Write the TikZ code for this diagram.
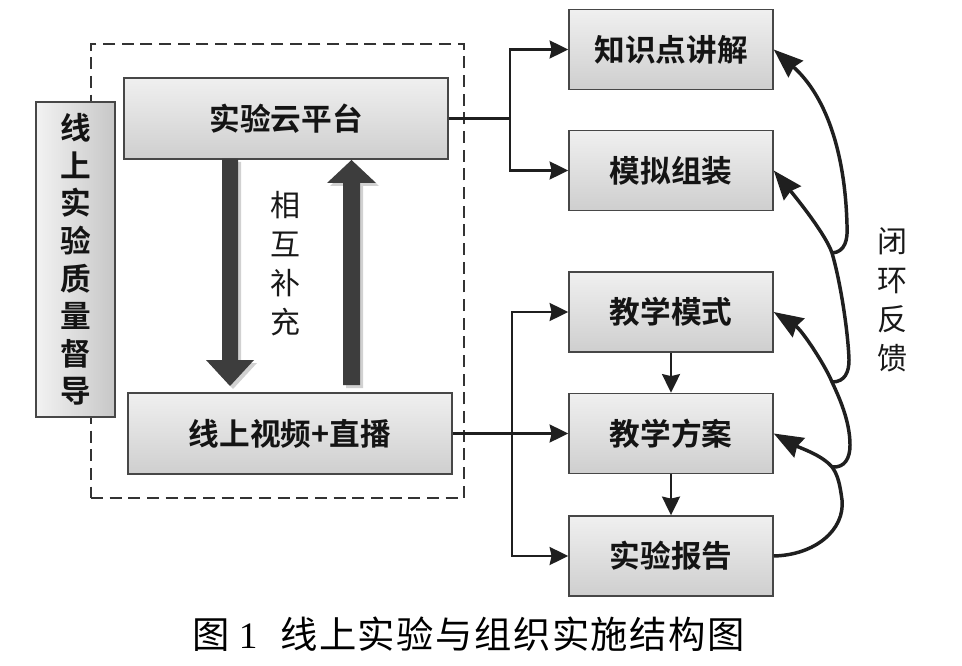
\documentclass[tikz,border=0pt]{standalone}
\usepackage{fontspec}
\setmainfont{Liberation Serif}
\newfontfamily\hei{Noto Sans CJK SC}
\newfontfamily\heib{Noto Sans CJK SC Bold}
\newfontfamily\song{Noto Sans CJK SC}[LetterSpace=4]
\usetikzlibrary{arrows.meta,calc}
\tikzset{
  box/.style={draw=black!72, line width=1.1pt, top color=black!6, bottom color=black!19,
    inner sep=0pt, text=black!92, font=\heib\fontsize{23pt}{27pt}\selectfont},
  rbox/.style={box, minimum width=153pt, minimum height=60pt},
  lbox/.style={box, minimum width=243pt, minimum height=60.75pt},
  frame/.style={draw=black!80, line width=1.1pt, dash pattern=on 9pt off 5pt,
    minimum width=279.75pt, minimum height=340.5pt, inner sep=0pt},
  conn/.style={draw=black!88, line width=1.7pt},
  arr/.style={conn, -{Stealth[length=14pt,width=13.5pt,inset=1.5pt]}},
  fb/.style={draw=black!88, line width=2.6pt, -{Stealth[length=22pt,width=16.5pt,inset=2pt]}},
  vtext/.style={align=center, text=black!90, font=\hei\fontsize{22.5pt}{29.1pt}\selectfont},
  blockarrow/.style={fill=black!76, draw=none},
  blockshadow/.style={fill=black!18, draw=none}
}
\begin{document}
\begin{tikzpicture}[x=0.75pt,y=-0.75pt]
\useasboundingbox (0,0) rectangle (962,666);
\fill[white] (0,0) rectangle (962,666);

% dashed frame
\node[frame] (frame) at (277.5,271) {};

% left side boxes
\node[lbox] (cloud) at (286,118.5) {实验云平台};
\node[lbox] (video) at (290,433.5) {线上视频+直播};
\node[box, left color=black!5, right color=black!22, minimum width=59.25pt, minimum height=236.25pt,
  align=center, font=\heib\fontsize{23pt}{28.2pt}\selectfont] (qa) at (75.5,259.5)
  {线\\上\\实\\验\\质\\量\\督\\导};

% block arrows (mutual complement)
\fill[blockshadow] (225,162) -- (241,162) -- (241,363) -- (257,363) -- (233,389) -- (209,363) -- (225,363) -- cycle;
\fill[blockarrow] (222,159) -- (238,159) -- (238,360) -- (254,360) -- (230,386) -- (206,360) -- (222,360) -- cycle;
\fill[blockshadow] (346,388) -- (363,388) -- (363,186) -- (379,186) -- (354.5,163) -- (330,186) -- (346,186) -- cycle;
\fill[blockarrow] (343,385) -- (360,385) -- (360,183) -- (376,183) -- (351.5,160) -- (327,183) -- (343,183) -- cycle;
\node[vtext] (mutual) at (285,263.5) {相\\互\\补\\充};

% right boxes
\node[rbox] (r1) at (671,49.5) {知识点讲解};
\node[rbox] (r2) at (671,170.5) {模拟组装};
\node[rbox] (r3) at (671,312) {教学模式};
\node[rbox] (r4) at (671,433.5) {教学方案};
\node[rbox] (r5) at (671,556) {实验报告};

% connectors
\coordinate (ja) at (510,118.5);
\draw[conn] (cloud.east) -- (ja);
\draw[arr] (ja) |- (r1.west);
\draw[arr] (ja) |- (r2.west);

\coordinate (jb) at (512,433.5);
\draw[arr] (video.east) -- (r4.west);
\draw[arr] (jb) |- (r3.west);
\draw[arr] (jb) |- (r5.west);
\draw[arr] (r3.south) -- (r4.north);
\draw[arr] (r4.south) -- (r5.north);

% closed-loop feedback
\coordinate (j1) at (832,467);
\coordinate (j2) at (832,382);
\coordinate (j3) at (832,253);
\draw[fb] (r5.east) .. controls (815,555) and (845,530) .. (842,500)
  .. controls (840,485) and (838,475) .. (j1)
  .. controls (822,455) and (800,448) .. (r4.east);
\draw[fb] (j1) .. controls (845,468) and (850,458) .. (850,445)
  .. controls (850,420) and (838,395) .. (j2)
  .. controls (825,365) and (802,330) .. (r3.east);
\draw[fb] (j2) .. controls (845,382) and (849,372) .. (849,360)
  .. controls (848,330) and (840,280) .. (j3)
  .. controls (826,235) and (798,200) .. (r2.east);
\draw[fb] (j3) .. controls (845,252) and (848,240) .. (847,225)
  .. controls (845,150) and (825,95) .. (r1.east);
\node[vtext] (loop) at (892,300) {闭\\环\\反\\馈};

% caption
\node[anchor=west, inner sep=0pt, text=black, font=\song\fontsize{28pt}{30pt}\selectfont] (caption) at (192,634)
  {图\hspace{7pt}{\rmfamily 1}\hspace{17pt}线上实验与组织实施结构图};
\end{tikzpicture}
\end{document}
